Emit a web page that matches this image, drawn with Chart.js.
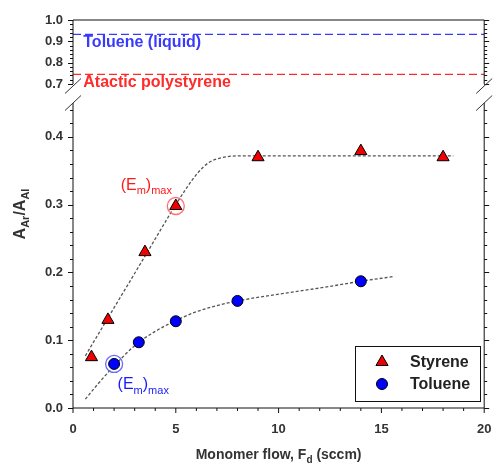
<!DOCTYPE html>
<html>
<head>
<meta charset="utf-8">
<script src="https://cdn.jsdelivr.net/npm/chart.js@4.4.1/dist/chart.umd.min.js"></script>
<style>
  html, body { margin: 0; padding: 0; background: #fff; }
  #wrap { width: 494px; height: 464px; }
</style>
</head>
<body>
<div id="wrap"><canvas id="chart" width="494" height="464"></canvas></div>
<script>
// values
const styreneFlow  = [0.9, 1.7, 3.5, 5.0, 9.0, 14.0, 18.0];
const styreneRatio = [0.075, 0.130, 0.230, 0.298, 0.370, 0.379, 0.370];
const tolueneFlow  = [2.0, 3.2, 5.0, 8.0, 14.0];
const tolueneRatio = [0.065, 0.097, 0.128, 0.158, 0.187];

// dashed guide curves (traced)
const styreneFitFlow  = [0.6, 2.0, 3.5, 5.0, 5.6, 6.1, 6.6, 7.2, 8.0, 12.0, 18.5];
const styreneFitRatio = [0.077, 0.148, 0.224, 0.300, 0.328, 0.348, 0.362, 0.369, 0.372, 0.372, 0.372];
const tolueneFitFlow  = [0.6, 1.2, 2.0, 3.0, 4.0, 5.0, 6.0, 7.0, 8.0, 10.0, 12.0, 14.0, 15.6];
const tolueneFitRatio = [0.013, 0.035, 0.062, 0.092, 0.113, 0.129, 0.142, 0.151, 0.158, 0.168, 0.177, 0.187, 0.194];

// reference levels (upper panel)
const refNames  = ['Toluene (liquid)', 'Atactic polystyrene'];
const refLevels = [0.933, 0.745];
const refColors = ['#3a3aff', '#ff2a2a'];

// (Em)max points and where their labels sit
const emaxPoints = [[5.0, 0.298], [2.0, 0.065]];
const emaxLabelAt = [[2.32, 0.322], [2.17, 0.028]];

const xTicks = [0, 5, 10, 15, 20];
const yTopTicks = [0.7, 0.8, 0.9, 1.0];
const yBotTicks = [0.0, 0.1, 0.2, 0.3, 0.4];

Chart.defaults.font.family = "'Liberation Sans', Arial, sans-serif";
Chart.defaults.color = '#333';

const pts = (xs, ys) => xs.map((x, i) => ({ x: x, y: ys[i] }));

// small helper for text with subscripts: parts = [[text, isSub], ...]
function richText(ctx, parts, x, y, size, weight, color, align) {
  const big = weight + ' ' + size + 'px ' + Chart.defaults.font.family;
  const small = weight + ' ' + Math.round(size * 0.68) + 'px ' + Chart.defaults.font.family;
  ctx.fillStyle = color;
  ctx.textBaseline = 'alphabetic';
  ctx.textAlign = 'left';
  let w = 0;
  parts.forEach(p => { ctx.font = p[1] ? small : big; w += ctx.measureText(p[0]).width; });
  let cx = align === 'center' ? x - w / 2 : x;
  parts.forEach(p => {
    ctx.font = p[1] ? small : big;
    ctx.fillText(p[0], cx, p[1] ? y + size * 0.28 : y);
    cx += ctx.measureText(p[0]).width;
  });
}

const decor = {
  id: 'decor',
  afterDraw(chart) {
    const ctx = chart.ctx;
    const a = chart.chartArea;
    const sx = chart.scales.x, yt = chart.scales.yTop, yb = chart.scales.yBot;
    ctx.save();

    // frame
    ctx.strokeStyle = '#111';
    ctx.lineWidth = 1;
    ctx.beginPath();
    ctx.moveTo(a.left, yt.bottom); ctx.lineTo(a.left, yt.top); ctx.lineTo(a.right, yt.top); ctx.lineTo(a.right, yt.bottom);
    ctx.moveTo(a.left, yb.top); ctx.lineTo(a.left, yb.bottom); ctx.lineTo(a.right, yb.bottom); ctx.lineTo(a.right, yb.top);
    ctx.stroke();

    // tick marks (major every 5 / 0.1, minor every 1 / 0.02)
    ctx.beginPath();
    for (let v = 0; v <= 20; v++) {
      const px = sx.getPixelForValue(v), len = v % 5 === 0 ? 5 : 3;
      ctx.moveTo(px, a.bottom); ctx.lineTo(px, a.bottom + len);
    }
    [yt, yb].forEach(s => {
      for (let i = 0; ; i++) {
        const v = s.min + i * 0.02;
        if (v > s.max + 1e-9) break;
        const py = Math.round(s.getPixelForValue(v)) + 0.5;
        const len = Math.abs(v * 10 - Math.round(v * 10)) < 1e-6 ? 5 : 3;
        ctx.moveTo(a.left - len, py); ctx.lineTo(a.left, py);
        ctx.moveTo(a.right, py); ctx.lineTo(a.right + len, py);
      }
    });
    ctx.stroke();

    // axis break marks
    ctx.strokeStyle = '#333';
    ctx.beginPath();
    [a.left, a.right].forEach(x => {
      [yt.bottom + 2, yb.top].forEach(y => {
        ctx.moveTo(x - 8, y + 7.5); ctx.lineTo(x + 8, y - 7.5);
      });
    });
    ctx.stroke();

    // reference line labels
    refNames.forEach((n, i) => {
      ctx.font = 'bold 16px ' + Chart.defaults.font.family;
      ctx.fillStyle = refColors[i];
      ctx.textAlign = 'left';
      ctx.textBaseline = 'alphabetic';
      ctx.fillText(n, sx.getPixelForValue(0.5), yt.getPixelForValue(refLevels[i]) + 13);
    });

    // (Em)max labels
    const em = [['(E', 0], ['m', 1], [')', 0], ['max', 1]];
    richText(ctx, em, sx.getPixelForValue(emaxLabelAt[0][0]), yb.getPixelForValue(emaxLabelAt[0][1]), 16, 'normal', '#ff1a1a', 'left');
    richText(ctx, em, sx.getPixelForValue(emaxLabelAt[1][0]), yb.getPixelForValue(emaxLabelAt[1][1]), 16, 'normal', '#1a1aff', 'left');

    // axis titles
    richText(ctx, [['Monomer flow, F', 0], ['d', 1], [' (sccm)', 0]], (a.left + a.right) / 2, 459, 14, 'bold', '#333', 'center');
    ctx.save();
    ctx.translate(25, (a.top + a.bottom) / 2);
    ctx.rotate(-Math.PI / 2);
    richText(ctx, [['A', 0], ['Ar', 1], ['/A', 0], ['Al', 1]], 0, 0, 16, 'bold', '#333', 'center');
    ctx.restore();

    // legend box
    ctx.strokeStyle = '#111';
    ctx.strokeRect(355.5, 346.5, 125, 55);
    const ds = chart.data.datasets;
    [[ds[0], 362], [ds[1], 384]].forEach(([d, y]) => {
      ctx.fillStyle = d.pointBackgroundColor;
      ctx.strokeStyle = d.pointBorderColor;
      ctx.lineWidth = 1;
      Chart.helpers.drawPoint(ctx, { pointStyle: d.pointStyle, radius: d.pointRadius, borderWidth: 1 }, 382, y);
      ctx.font = 'bold 16px ' + Chart.defaults.font.family;
      ctx.fillStyle = '#222';
      ctx.textAlign = 'left';
      ctx.textBaseline = 'middle';
      ctx.fillText(d.label, 410, y + 1);
    });
    ctx.restore();
  }
};

const tickFont = { size: 13, weight: 'bold' };
const yScale = (ticks, min, max, weight, stackWeight) => ({
  type: 'linear', position: 'left', stack: 'y', stackWeight: stackWeight, weight: weight,
  min: min, max: max,
  grid: { display: false, tickLength: 0 }, border: { display: false },
  afterBuildTicks: s => { s.ticks = ticks.map(v => ({ value: v })); },
  afterFit: s => { s.width = 73; s.paddingTop = 0; s.paddingBottom = 0; },
  ticks: { padding: 10, font: tickFont, color: '#333', autoSkip: false, callback: v => v.toFixed(1) }
});

new Chart(document.getElementById('chart'), {
  type: 'scatter',
  data: {
    datasets: [
      { label: 'Styrene', data: pts(styreneFlow, styreneRatio), yAxisID: 'yBot',
        pointStyle: 'triangle', pointRadius: 7, pointBackgroundColor: '#f00000', pointBorderColor: '#000', pointBorderWidth: 1 },
      { label: 'Toluene', data: pts(tolueneFlow, tolueneRatio), yAxisID: 'yBot',
        pointStyle: 'circle', pointRadius: 5.5, pointBackgroundColor: '#0000ff', pointBorderColor: '#000', pointBorderWidth: 1 },
      { data: [{ x: emaxPoints[0][0], y: emaxPoints[0][1] }], yAxisID: 'yBot',
        pointRadius: 8.5, pointBackgroundColor: 'rgba(0,0,0,0)', pointBorderColor: '#ff7070', pointBorderWidth: 1.3 },
      { data: [{ x: emaxPoints[1][0], y: emaxPoints[1][1] }], yAxisID: 'yBot',
        pointRadius: 8.5, pointBackgroundColor: 'rgba(0,0,0,0)', pointBorderColor: '#6a6aff', pointBorderWidth: 1.3 },
      { data: pts(styreneFitFlow, styreneFitRatio), yAxisID: 'yBot', showLine: true, pointRadius: 0,
        borderColor: '#555', borderWidth: 1.3, borderDash: [3, 2], cubicInterpolationMode: 'monotone' },
      { data: pts(tolueneFitFlow, tolueneFitRatio), yAxisID: 'yBot', showLine: true, pointRadius: 0,
        borderColor: '#555', borderWidth: 1.3, borderDash: [3, 2], cubicInterpolationMode: 'monotone' },
      { data: [{ x: 0, y: refLevels[0] }, { x: 20, y: refLevels[0] }], yAxisID: 'yTop', showLine: true, pointRadius: 0,
        borderColor: refColors[0], borderWidth: 1.3, borderDash: [8, 4] },
      { data: [{ x: 0, y: refLevels[1] }, { x: 20, y: refLevels[1] }], yAxisID: 'yTop', showLine: true, pointRadius: 0,
        borderColor: refColors[1], borderWidth: 1.3, borderDash: [8, 4] }
    ]
  },
  options: {
    responsive: false,
    animation: false,
    layout: { padding: { top: 20, right: 7, left: 0, bottom: 0 } },
    plugins: { legend: { display: false }, tooltip: { enabled: false } },
    scales: {
      x: {
        type: 'linear', min: 0, max: 20,
        grid: { display: false, tickLength: 0 }, border: { display: false },
        afterBuildTicks: s => { s.ticks = xTicks.map(v => ({ value: v })); },
        afterFit: s => { s.height = 56; s.paddingLeft = 0; s.paddingRight = 0; },
        ticks: { padding: 14, font: tickFont, color: '#333', maxRotation: 0, autoSkip: false }
      },
      yBot: yScale(yBotTicks, 0, 0.45, 1, 305),
      yGap: { type: 'linear', position: 'left', stack: 'y', stackWeight: 19, weight: 2, min: 0, max: 1,
        grid: { display: false }, border: { display: false }, ticks: { display: false },
        afterFit: s => { s.width = 73; s.paddingTop = 0; s.paddingBottom = 0; } },
      yTop: yScale(yTopTicks, 0.7, 1.0, 3, 64)
    }
  },
  plugins: [decor]
});
</script>
</body>
</html>
